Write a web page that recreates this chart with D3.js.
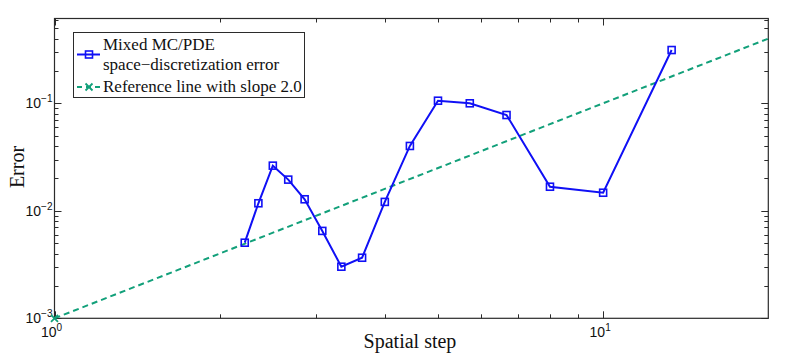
<!DOCTYPE html>
<html>
<head>
<meta charset="utf-8">
<script src="https://cdn.jsdelivr.net/npm/d3@7"></script>
<style>
  body { margin: 0; background: #fff; }
  svg { display: block; }
</style>
</head>
<body>
<div id="chart"></div>
<script>
/* Data */
const stepValues = [2.222, 2.353, 2.5, 2.667, 2.857, 3.077, 3.333, 3.636, 4.0, 4.444, 5.0, 5.714, 6.667, 8.0, 10.0, 13.33];
const errorValues = [0.00505, 0.01175, 0.0263, 0.0195, 0.0128, 0.0065, 0.00302, 0.00366, 0.0121, 0.0401, 0.1057, 0.1, 0.0778, 0.01675, 0.01473, 0.313];
const refSteps = [1, 25];
const refErrors = [0.001, 0.625];
const xMajorTicks = [1, 10];
const yMajorTicks = [0.001, 0.01, 0.1];
const xTickExponents = ["0", "1"];
const yTickExponents = ["\u22123", "\u22122", "\u22121"];
const legendLabels = [["Mixed MC/PDE", "space\u2212discretization error"], ["Reference line with slope 2.0"]];

const W = 789, H = 357;
const plot = { left: 54.5, right: 768.3, top: 18.5, bottom: 318.3 };
const blue = "#1010f5", green = "#12a07a", axisCol = "#2b2b2b";

const svg = d3.select("#chart").append("svg")
    .attr("width", W).attr("height", H);

const x = d3.scaleLog().domain([1, 20]).range([plot.left, plot.right]);
const y = d3.scaleLog().domain([0.001, 0.615]).range([plot.bottom, plot.top]);

/* minor tick values: 2..9 times each decade, inside the domain */
function minors(scale, decades) {
    const [a, b] = scale.domain();
    const out = [];
    decades.forEach(d => {
        for (let k = 2; k <= 9; k++) {
            const v = d * k;
            if (v > a && v < b) out.push(v);
        }
    });
    return out;
}
const xMinor = minors(x, [1, 10]);
const yMinor = minors(y, [0.001, 0.01, 0.1]);

const ticks = svg.append("g").attr("stroke", axisCol).attr("stroke-width", 1);
/* bottom and top ticks (inward) */
[[xMajorTicks, 7], [xMinor, 4]].forEach(([vals, len]) => {
    vals.forEach(v => {
        const px = Math.round(x(v)) + 0.5;
        ticks.append("line").attr("x1", px).attr("x2", px)
            .attr("y1", plot.bottom).attr("y2", plot.bottom - len);
        ticks.append("line").attr("x1", px).attr("x2", px)
            .attr("y1", plot.top).attr("y2", plot.top + len);
    });
});
/* left and right ticks (inward) */
[[yMajorTicks, 7], [yMinor, 4]].forEach(([vals, len]) => {
    vals.forEach(v => {
        const py = Math.round(y(v)) + 0.5;
        ticks.append("line").attr("y1", py).attr("y2", py)
            .attr("x1", plot.left).attr("x2", plot.left + len);
        ticks.append("line").attr("y1", py).attr("y2", py)
            .attr("x1", plot.right).attr("x2", plot.right - len);
    });
});

/* box */
svg.append("rect")
    .attr("x", plot.left).attr("y", plot.top)
    .attr("width", plot.right - plot.left).attr("height", plot.bottom - plot.top)
    .attr("fill", "none").attr("stroke", axisCol).attr("stroke-width", 1.2);

/* tick labels */
const tickFont = "'Liberation Sans', Arial, sans-serif";
xMajorTicks.forEach((v, i) => {
    const t = svg.append("text")
        .attr("x", x(v) - 3).attr("y", 337)
        .attr("text-anchor", "middle")
        .style("font-family", tickFont).style("font-size", "14px").attr("fill", "#111");
    t.append("tspan").text("10");
    t.append("tspan").attr("dy", -6).style("font-size", "10px").text(xTickExponents[i]);
});
yMajorTicks.forEach((v, i) => {
    const t = svg.append("text")
        .attr("x", plot.left - 2).attr("y", y(v) + 5)
        .attr("text-anchor", "end")
        .style("font-family", tickFont).style("font-size", "14px").attr("fill", "#111");
    t.append("tspan").text("10");
    t.append("tspan").attr("dy", -6).style("font-size", "10px").text(yTickExponents[i]);
});

/* axis titles */
const serif = "'Liberation Serif', 'Times New Roman', serif";
svg.append("text")
    .attr("x", 410).attr("y", 348)
    .attr("text-anchor", "middle")
    .style("font-family", serif).style("font-size", "20px").attr("fill", "#111")
    .text("Spatial step");
svg.append("text")
    .attr("transform", "translate(24,167) rotate(-90)")
    .attr("text-anchor", "middle")
    .style("font-family", serif).style("font-size", "20px").attr("fill", "#111")
    .text("Error");

/* clip for data */
svg.append("clipPath").attr("id", "clip").append("rect")
    .attr("x", plot.left - 6).attr("y", plot.top)
    .attr("width", plot.right - plot.left + 6).attr("height", plot.bottom - plot.top + 6);
const g = svg.append("g").attr("clip-path", "url(#clip)");

/* reference line */
const refData = refSteps.map((s, i) => ({ x: s, y: refErrors[i] }));
g.append("path")
    .datum(refData)
    .attr("fill", "none").attr("stroke", green).attr("stroke-width", 2)
    .attr("stroke-dasharray", "6 4")
    .attr("d", d3.line().x(d => x(d.x)).y(d => y(d.y)));
function cross(sel, cx, cy, col) {
    sel.append("path")
        .attr("d", `M${cx - 3.5},${cy - 3.5}L${cx + 3.5},${cy + 3.5}M${cx - 3.5},${cy + 3.5}L${cx + 3.5},${cy - 3.5}`)
        .attr("stroke", col).attr("stroke-width", 1.8).attr("fill", "none");
}
refData.forEach(d => cross(g, x(d.x), y(d.y), green));

/* error series */
const errData = stepValues.map((s, i) => ({ x: s, y: errorValues[i] }));
g.append("path")
    .datum(errData)
    .attr("fill", "none").attr("stroke", blue).attr("stroke-width", 2)
    .attr("d", d3.line().x(d => x(d.x)).y(d => y(d.y)));
g.selectAll(".sq")
    .data(errData)
    .join("rect")
    .attr("x", d => x(d.x) - 3.5).attr("y", d => y(d.y) - 3.5)
    .attr("width", 7).attr("height", 7)
    .attr("fill", "none").attr("stroke", blue).attr("stroke-width", 1.6);

/* legend */
const lg = svg.append("g");
lg.append("rect")
    .attr("x", 73.5).attr("y", 32.5).attr("width", 231).attr("height", 65)
    .attr("fill", "#fff").attr("stroke", axisCol).attr("stroke-width", 1);
const legendText = (txt, ty) => lg.append("text")
    .attr("x", 103).attr("y", ty)
    .style("font-family", serif).style("font-size", "17px").attr("fill", "#111")
    .text(txt);
legendLabels[0].forEach((t, i) => legendText(t, 50 + i * 20));
legendText(legendLabels[1][0], 91.5);
lg.append("line").attr("x1", 77).attr("x2", 100).attr("y1", 54.5).attr("y2", 54.5)
    .attr("stroke", blue).attr("stroke-width", 2);
lg.append("rect").attr("x", 85.5).attr("y", 51).attr("width", 7).attr("height", 7)
    .attr("fill", "none").attr("stroke", blue).attr("stroke-width", 1.6);
lg.append("line").attr("x1", 77).attr("x2", 100).attr("y1", 87).attr("y2", 87)
    .attr("stroke", green).attr("stroke-width", 2).attr("stroke-dasharray", "5 4");
cross(lg, 89, 87, green);
</script>
</body>
</html>
